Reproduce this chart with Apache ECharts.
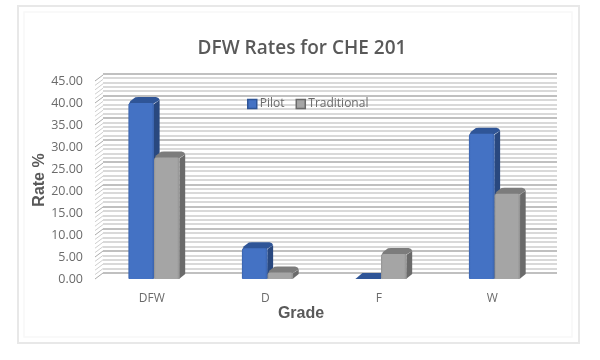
<!DOCTYPE html>
<html><head><meta charset="utf-8">
<script src="https://cdn.jsdelivr.net/npm/echarts@6/dist/echarts.min.js"></script>
<style>html,body{margin:0;padding:0;background:#fff}#c{width:600px;height:360px}</style>
</head><body><div id="c"></div>
<script>
const categories = ['DFW', 'D', 'F', 'W'];
const pilot = [40, 7, 0, 33];
const traditional = [27.6, 1.5, 5.7, 19.4];
const wallTicks = [0,1,2,3,4,5,6,7,8,9,10,11,12,13,14,15,16,17,18,19,20,21,22,23,24,25,26,27,28,29,30,31,32,33,34,35,36,37,38,39,40,41,42,43,44,45];
const DX = 8, DY = -6;
const chart = echarts.init(document.getElementById('c'), null, {renderer:'canvas'});

function bar3d(offset, cols) {
  return function (params, api) {
    const i = api.value(0), v = api.value(1);
    const base = api.coord([i, 0]), top = api.coord([i, v]);
    const band = api.size([1, 0])[0], w = band * 0.2255;
    const x0 = base[0] + 2.25 + offset * w, x1 = x0 + w, y0 = base[1], yf = top[1];
    const d = 5.6, e = 6;
    const h = y0 - yf;
    const ch = Math.min(3, h);
    const kids = [];
    kids.push({type:'polygon', shape:{points:[[x1,yf+ch*0.3],[x1+d,yf-e+ch],[x1+d,y0-e+1],[x1-0.5,y0]]}, style:{fill:cols.side}});
    if (h > 0.5) {
      kids.push({type:'polygon', shape:{points:[[x0,yf+2],[x0+2,yf-2],[x0+7,yf-e+0.3],[x0+10,yf-e],[x1+2,yf-e],[x1+4.5,yf-e+1],[x1+d,yf-e+ch],[x1-1,yf+1]]}, style:{fill:cols.top}});
      kids.push({type:'rect', shape:{x:x0,y:yf,width:w,height:h,r:[3,2,1,1]},
        style:{fill:new echarts.graphic.LinearGradient(0,0,1,0,[
          {offset:0,color:cols.edge},{offset:0.07,color:cols.front},{offset:0.9,color:cols.front},{offset:1,color:cols.edge}])}});
    } else {
      kids.push({type:'polygon', shape:{points:[[x0,y0],[x0+7,y0+DY],[x1+1,y0+DY],[x1,y0]]}, style:{fill:cols.top}});
    }
    return {type:'group', children:kids};
  };
}
const blue = {front:'#4472c4', edge:'#3a63ad', top:'#2f5597', side:'#29487f'};
const grey = {front:'#a5a5a5', edge:'#929292', top:'#7c7c7c', side:'#6a6a6a'};
const fontLabel = 'Open Sans';

chart.setOption({
  animation:false,
  backgroundColor:'#ffffff',
  title:{text:'DFW Rates for CHE 201', left:297, top:34, textAlign:'center',
    textStyle:{fontFamily:fontLabel, fontSize:19, fontWeight:600, color:'#595959'}},
  legend:{left:242, top:93, itemWidth:9, itemHeight:9, itemGap:11, icon:'rect',
    textStyle:{fontFamily:fontLabel, fontSize:12, color:'#6b6b6b', padding:[0,0,0,-2]},
    data:[{name:'Pilot', itemStyle:{color:'#4472c4', borderColor:'#2f5597', borderWidth:1.5}},
          {name:'Traditional', itemStyle:{color:'#a5a5a5', borderColor:'#6a6a6a', borderWidth:1.5}}]},
  grid:[
    {left:95, top:81, width:454, height:198},
    {left:95+DX, top:81+DY-1.5, width:454, height:199.5}
  ],
  xAxis:[
    {type:'category', gridIndex:0, data:categories,
      axisLine:{show:false}, axisTick:{show:false}, splitLine:{show:false},
      axisLabel:{margin:14, fontFamily:fontLabel, fontSize:12, color:'#6b6b6b'},
      name:'Grade', nameLocation:'middle', nameGap:27, nameMoveOverlap:false,
      nameTextStyle:{fontFamily:'Liberation Sans', fontSize:16, fontWeight:'bold', color:'#595959', padding:[0,42,0,0]}},
    {type:'category', gridIndex:1, data:categories, show:false}
  ],
  yAxis:[
    {type:'value', gridIndex:0, min:0, max:45, interval:5,
      axisLine:{show:false}, axisTick:{show:false}, splitLine:{show:false},
      axisLabel:{margin:12, padding:[2,0,0,0], formatter:v=>v.toFixed(2), fontFamily:fontLabel, fontSize:12.5, color:'#6b6b6b'},
      name:'Rate %', nameLocation:'middle', nameGap:47, nameRotate:90, nameMoveOverlap:false,
      nameTextStyle:{fontFamily:'Liberation Sans', fontSize:16, fontWeight:'bold', color:'#595959'}},
    {type:'value', gridIndex:1, min:0, max:45, interval:5,
      axisLine:{show:false}, axisTick:{show:false}, axisLabel:{show:false},
      splitLine:{show:true, lineStyle:{color:'#ababab', width:1.5}},
      minorTick:{show:false, splitNumber:5},
      minorSplitLine:{show:true, lineStyle:{color:'#d9d9d9', width:2}}}
  ],
  series:[
    {type:'custom', name:'wall', xAxisIndex:0, yAxisIndex:0, silent:true, z:1, clip:false,
      data:wallTicks.map(t=>[0,t]),
      renderItem:function(p,api){
        const t=api.value(1), a=api.coord([0,t]);
        const left=a[0]-api.size([1,0])[0]/2;
        return {type:'line', shape:{x1:left,y1:a[1],x2:left+DX,y2:a[1]+DY},
          style:{stroke:t%5===0?'#ababab':'#cfcfcf', lineWidth:1}};
      }},
    {type:'custom', name:'Pilot', xAxisIndex:0, yAxisIndex:0, z:3, clip:false,
      itemStyle:{color:'#4472c4'},
      data:pilot.map((v,i)=>[i,v]), encode:{x:0,y:1}, renderItem:bar3d(-1,blue)},
    {type:'custom', name:'Traditional', xAxisIndex:0, yAxisIndex:0, z:4, clip:false,
      itemStyle:{color:'#a5a5a5'},
      data:traditional.map((v,i)=>[i,v]), encode:{x:0,y:1}, renderItem:bar3d(0,grey)}
  ],
  graphic:[
    {type:'rect', z:-1, silent:true, shape:{x:18,y:6,width:561,height:337}, style:{fill:'#fff',stroke:'#e8e8e8',lineWidth:2}},
    {type:'rect', z:-1, silent:true, shape:{x:24,y:12,width:548,height:325}, style:{fill:'#fff',stroke:'#f8f8f8',lineWidth:1.5}}
  ]
});
</script></body></html>
